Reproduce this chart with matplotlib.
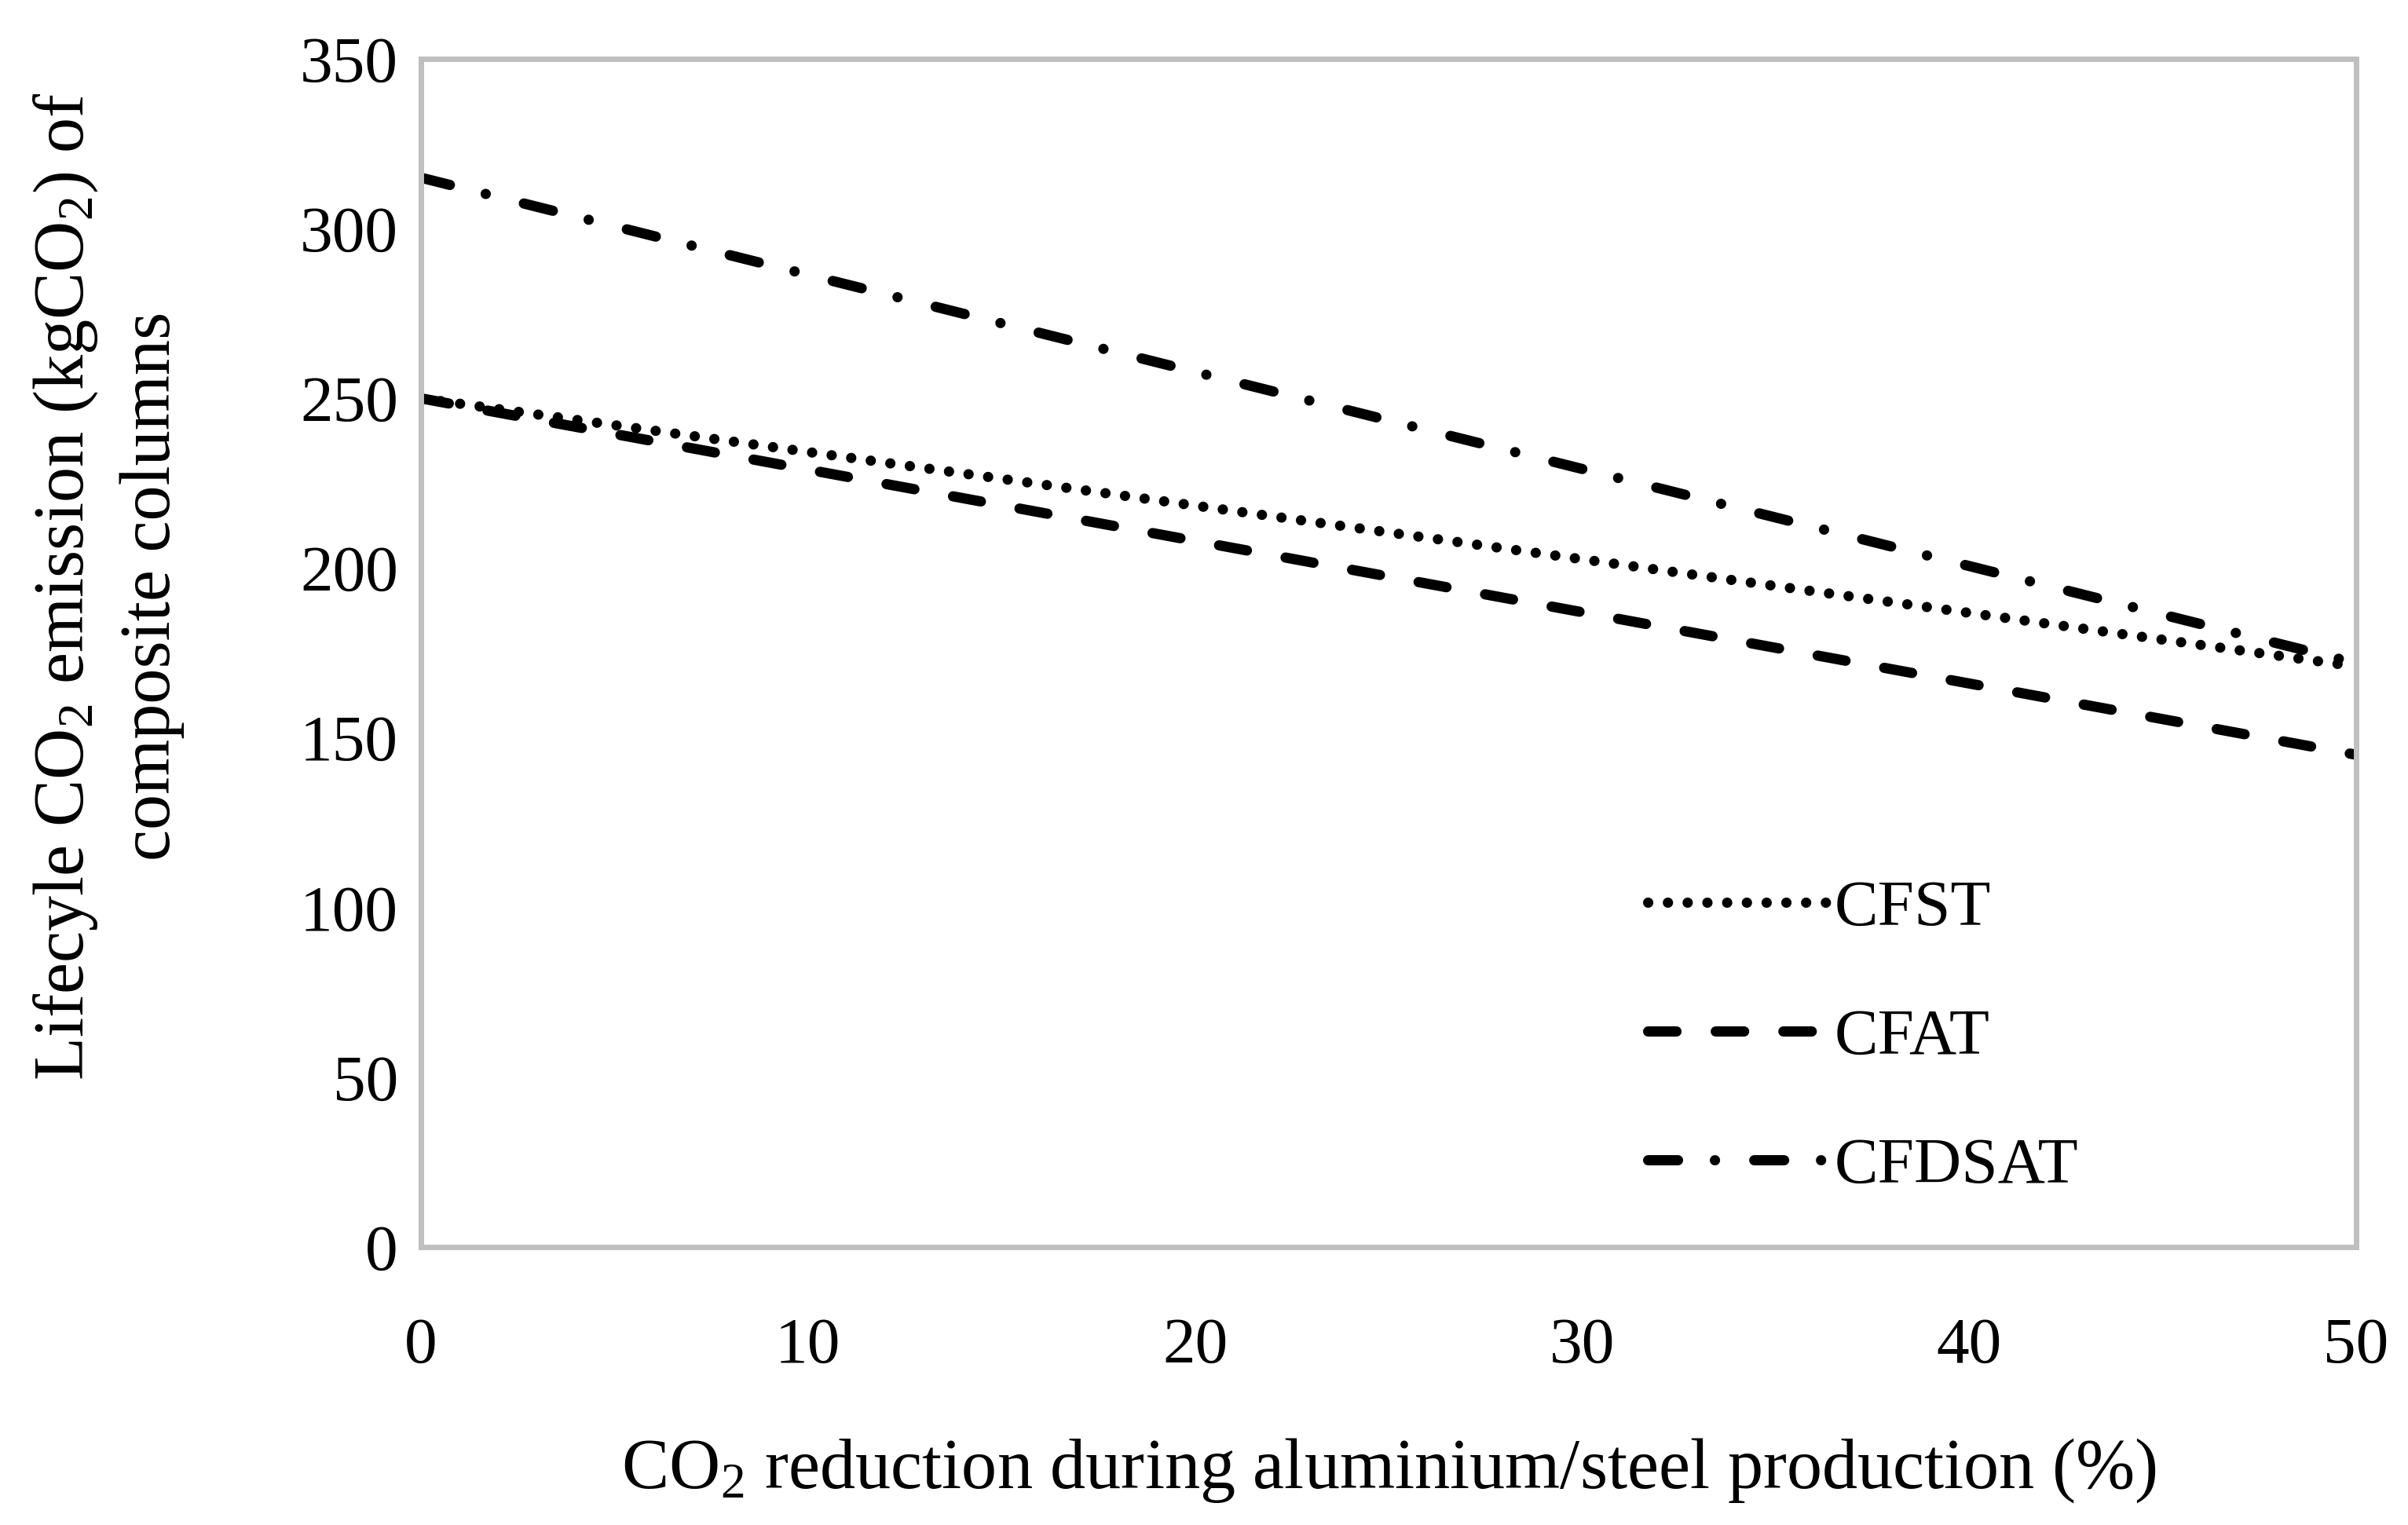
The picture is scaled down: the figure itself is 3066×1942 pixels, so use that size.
import matplotlib
matplotlib.use("Agg")
import matplotlib.pyplot as plt

# reduction of CO2 during aluminium/steel production (%)
reduction = [0, 10, 20, 30, 40, 50]

# lifecycle CO2 emission (kgCO2)
cfst = [250, 234.2, 218.4, 202.6, 186.8, 171]
cfat = [250, 229, 208, 187, 166, 145]
cfdsat = [315, 286.4, 257.8, 229.2, 200.6, 172]

xticks = [0, 10, 20, 30, 40, 50]
yticks = [0, 50, 100, 150, 200, 250, 300, 350]

plt.rcParams['font.family'] = ['Liberation Serif', 'DejaVu Serif']
plt.rcParams['mathtext.fontset'] = 'custom'
plt.rcParams['mathtext.rm'] = 'Liberation Serif'
plt.rcParams['mathtext.it'] = 'Liberation Serif:italic'
plt.rcParams['lines.scale_dashes'] = False
FS = 60
LFS = 65

fig = plt.figure(figsize=(30.66, 19.42), dpi=100)
ax = fig.add_axes([0.1748, 0.1823, 0.8037, 0.7791])

LW = 9.4
l1, = ax.plot(reduction, cfst, color="black", lw=LW, label="CFST",
              dash_capstyle="round")
l1.set_dashes((0.1, 18))
l2, = ax.plot(reduction, cfat, color="black", lw=LW, label="CFAT",
              dash_capstyle="round")
l2.set_dashes((26, 36))
l3, = ax.plot(reduction, cfdsat, color="black", lw=LW, label="CFDSAT",
              dash_capstyle="round")
l3.set_dashes((27.4, 33.8, 0.1, 36))

ax.set_xlim(0, 50)
ax.set_ylim(0, 350)
ax.set_xticks(xticks)
ax.set_yticks(yticks)
ax.tick_params(axis="both", length=0, labelsize=FS)
ax.tick_params(axis="y", pad=21)
ax.tick_params(axis="x", pad=64)

for s in ax.spines.values():
    s.set_color("#bfbfbf")
    s.set_linewidth(5)

ax.set_xlabel("CO$_2$ reduction during aluminium/steel production (%)",
              fontsize=LFS, labelpad=55)
ax.set_ylabel("Lifecyle CO$_2$ emission (kgCO$_2$) of\ncomposite columns",
              fontsize=LFS, va="center", ha="center", linespacing=1.4)
ax.yaxis.set_label_coords(-0.1615, 0.556)

ax.legend(loc="center left", bbox_to_anchor=(0.634, 0.176),
          frameon=False, fontsize=FS, handlelength=2.75, handletextpad=0.1,
          labelspacing=1.05, borderpad=0, borderaxespad=0)

fig.savefig("out.png", dpi=100)
